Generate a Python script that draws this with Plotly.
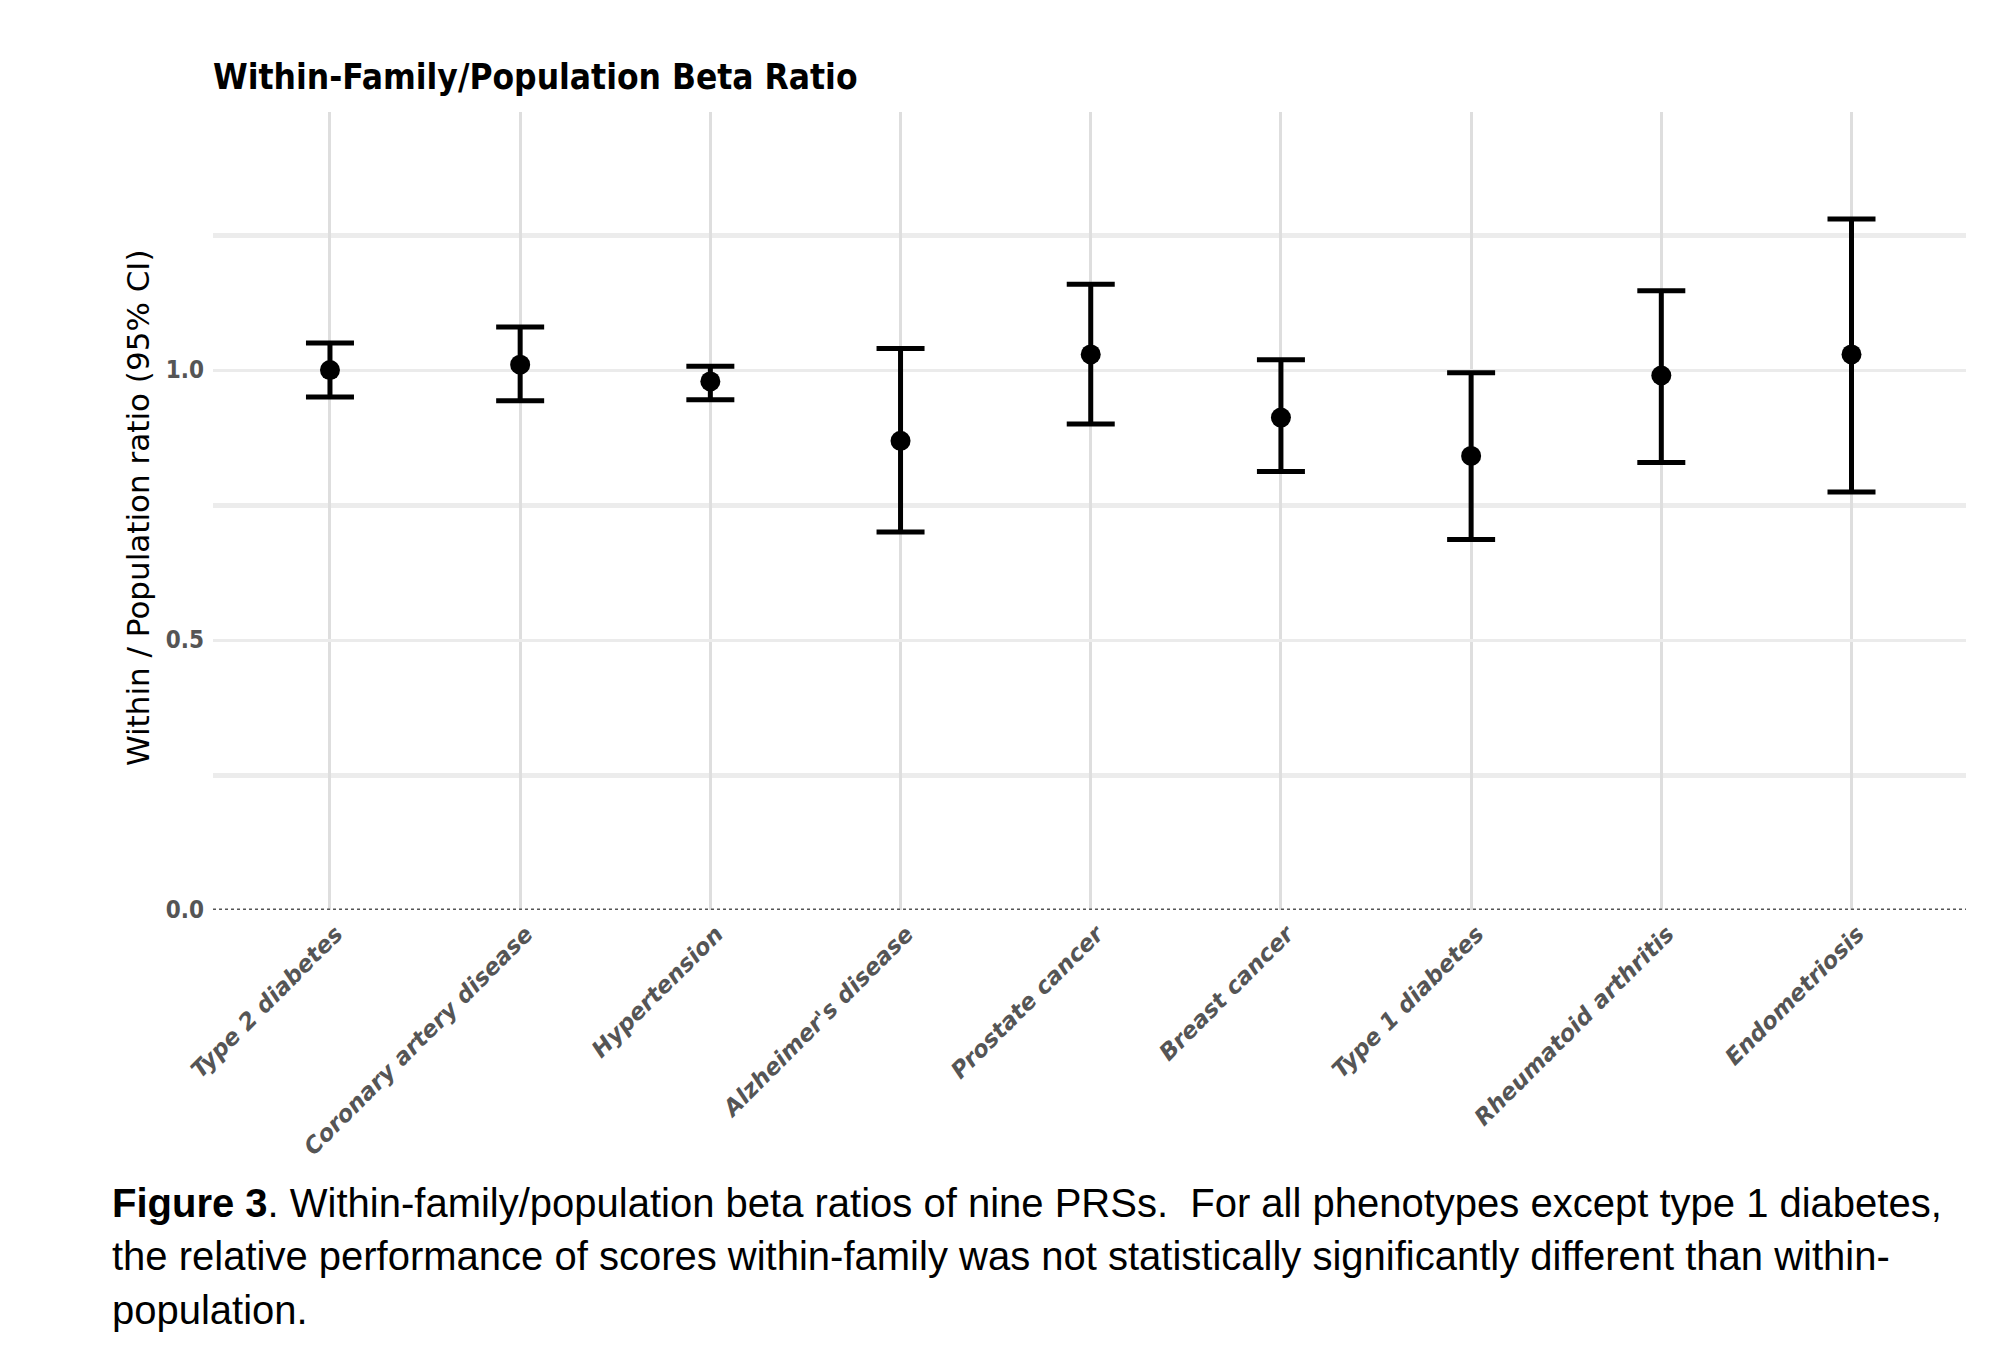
import plotly.graph_objects as go

phenotypes = ["Type 2 diabetes", "Coronary artery disease", "Hypertension",
              "Alzheimer's disease", "Prostate cancer", "Breast cancer",
              "Type 1 diabetes", "Rheumatoid arthritis", "Endometriosis"]
ratio = [1.00, 1.01, 0.979, 0.869, 1.029, 0.912, 0.841, 0.990, 1.029]
ci_low = [0.950, 0.943, 0.945, 0.700, 0.900, 0.812, 0.686, 0.829, 0.774]
ci_high = [1.050, 1.080, 1.007, 1.040, 1.159, 1.019, 0.995, 1.147, 1.280]

y_ticks = [0, 0.5, 1.0]
y_ticklabels = ["0.0", "0.5", "1.0"]
y_minor = [0.25, 0.75, 1.25]

title_text = "Within-Family/Population Beta Ratio"
y_title = "Within / Population ratio (95% CI)"
caption_lines = [
    "<b>Figure 3</b>. Within-family/population beta ratios of nine PRSs.  For all phenotypes except type 1 diabetes,",
    "the relative performance of scores within-family was not statistically significantly different than within-",
    "population.",
]

OFF = 8  # default page body margin
W, H = 2014 - OFF, 1346 - OFF
L, R, T, B = 213 - OFF, 1966 - OFF, 112 - OFF, 910 - OFF

err_plus = [h - r for h, r in zip(ci_high, ratio)]
err_minus = [r - l for r, l in zip(ratio, ci_low)]
xs = list(range(len(phenotypes)))

fig = go.Figure()

fig.add_shape(type="line", xref="paper", yref="y", x0=0, x1=1, y0=1, y1=1,
              line=dict(color="#c9c9c9", width=2), layer="below")
fig.add_shape(type="line", xref="paper", yref="y", x0=0, x1=1, y0=0, y1=0,
              line=dict(color="#555555", width=3, dash="dot"))

fig.add_trace(go.Scatter(
    x=xs, y=ratio, mode="markers",
    marker=dict(color="black", size=20),
    error_y=dict(type="data", symmetric=False, array=err_plus, arrayminus=err_minus,
                 color="black", thickness=5, width=24),
    showlegend=False,
))

fig.update_layout(
    width=W, height=H, autosize=False,
    margin=dict(l=L, r=W - R, t=T, b=H - B),
    paper_bgcolor="white", plot_bgcolor="white",
    title=dict(text=title_text, x=L / W, xanchor="left", y=1 - (77 - OFF) / H, yanchor="middle",
               xref="container", yref="container",
               font=dict(family="DejaVu Sans Condensed, DejaVu Sans", size=35, color="black",
                         weight="bold")),
    xaxis=dict(range=[-0.615, 8.602], tickmode="array", tickvals=xs, ticktext=phenotypes,
               tickangle=-45, showgrid=True, gridcolor="#dedede", gridwidth=3,
               zeroline=False, showline=False, ticks="", ticklabelstandoff=5,
               ticklabelshift=6,
               tickfont=dict(family="DejaVu Sans", size=23, color="#555555", style="italic",
                             weight="bold")),
    yaxis=dict(range=[0, 1.478], tickmode="array", tickvals=y_ticks, ticktext=y_ticklabels,
               showgrid=True, gridcolor="#ebebeb", gridwidth=3,
               minor=dict(tickvals=y_minor, showgrid=True, gridcolor="#ececec", gridwidth=5),
               zeroline=False, showline=False, ticks="", ticklabelstandoff=8,
               tickfont=dict(family="DejaVu Sans Condensed, DejaVu Sans", size=24,
                             color="#555555", weight="bold")),
)

fig.add_annotation(text=y_title, xref="paper", yref="paper",
                   x=(138 - OFF - L) / (R - L), y=(B - (508 - OFF)) / (B - T),
                   xanchor="center", yanchor="middle", textangle=-90, showarrow=False,
                   font=dict(family="DejaVu Sans", size=31, color="black"))

cap_y = [1203, 1256, 1310]
for line, py in zip(caption_lines, cap_y):
    fig.add_annotation(text=line, xref="paper", yref="paper",
                       x=(110 - OFF - L) / (R - L), y=(B - (py - OFF)) / (B - T),
                       xanchor="left", yanchor="middle", showarrow=False,
                       font=dict(family="Liberation Sans, Arial", size=40, color="black"))

fig.write_html("out.html")
